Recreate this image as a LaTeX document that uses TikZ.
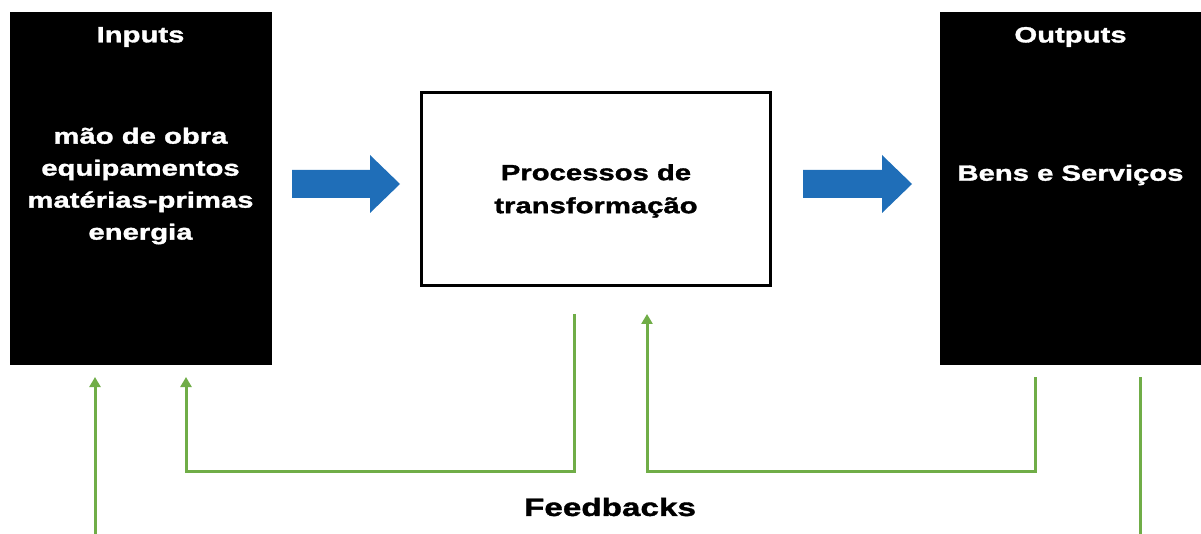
\documentclass[tikz,border=0pt]{standalone}
\usepackage{fontspec}
\setmainfont{Liberation Sans}
\newfontfamily\blk{Liberation Sans}[FakeStretch=1.33,BoldFeatures={FakeBold=1.5}]
\usetikzlibrary{arrows.meta}
\definecolor{fbgreen}{HTML}{70AD47}
\definecolor{flowblue}{HTML}{1F6EB8}
\begin{document}
\begin{tikzpicture}[x=1pt,y=-1pt,
  blackbox/.style={fill=black,draw=black,minimum width=261pt,minimum height=352pt,inner sep=0pt},
  procbox/.style={draw=black,line width=3pt,fill=white,minimum width=349pt,minimum height=193pt,inner sep=0pt},
  wtext/.style={text=white,font=\blk\bfseries\fontsize{22}{32}\selectfont,align=center,inner sep=0pt},
  btext/.style={text=black,font=\blk\bfseries\fontsize{22}{33}\selectfont,align=center,inner sep=0pt},
  fb/.style={draw=fbgreen,line width=3pt},
  fbarrow/.style={fb,-{Triangle[length=10pt,width=11pt]}},
  bigarrow/.style={fill=flowblue,draw=none}]
\useasboundingbox (0,0) rectangle (1201,534);
\node[blackbox] (in) at (140.5,188) {};
\node[blackbox] (out) at (1070.5,188) {};
\node[procbox] (proc) at (596,189) {};
\node[wtext] (inT) at (140.5,37) {Inputs};
\node[wtext] (inL) at (140.5,186) {mão de obra\\equipamentos\\matérias-primas\\energia};
\node[wtext] (outT) at (1070.5,37) {Outputs};
\node[wtext] (outL) at (1070.5,175) {Bens e Serviços};
\node[btext] (procL) at (596,191) {Processos de\\transformação};
\node[btext,font=\blk\bfseries\fontsize{25}{30}\selectfont] (fbL) at (610,507) {Feedbacks};
% blue arrows
\path[bigarrow] (292,170) -- (370,170) -- (370,155) -- (400,184) -- (370,213) -- (370,198) -- (292,198) -- cycle;
\path[bigarrow] (803,170) -- (882,170) -- (882,155) -- (912,184) -- (882,213) -- (882,198) -- (803,198) -- cycle;
% feedback lines
\coordinate (a0) at (95,534);
\coordinate (a1) at (95,377);
\coordinate (b0) at (574,314);
\coordinate (b1) at (186,377);
\coordinate (c0) at (1035,377);
\coordinate (c1) at (647,314);
\coordinate (d0) at (1140,377);
\coordinate (d1) at (1140,534);
\draw[fbarrow] (a0) -- (a1);
\draw[fbarrow] (b0) |- (186,471) -- (b1);
\draw[fbarrow] (c0) |- (647,471) -- (c1);
\draw[fb] (d0) -- (d1);
\end{tikzpicture}
\end{document}
